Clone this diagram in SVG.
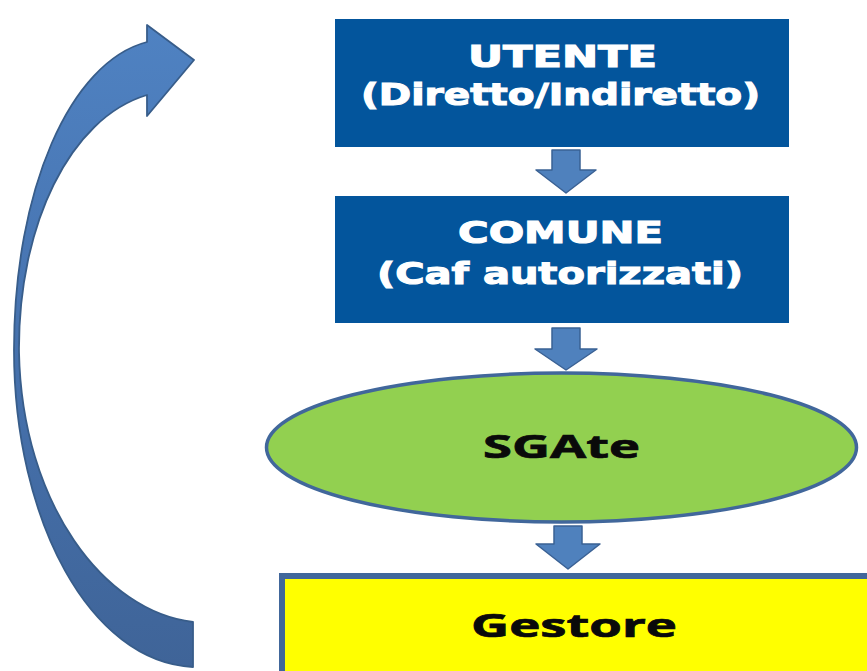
<svg xmlns="http://www.w3.org/2000/svg" width="867" height="671" viewBox="0 0 867 671">
<defs>
<linearGradient id="curveGrad" x1="0" y1="0" x2="0" y2="1">
<stop offset="0" stop-color="#4F82C2"/>
<stop offset="0.5" stop-color="#4672AE"/>
<stop offset="1" stop-color="#3F6498"/>
</linearGradient>
<style>
.box{fill:#03559C;}
.wt{fill:#FFFFFF;stroke:#FFFFFF;stroke-width:1.1;font-family:"DejaVu Sans","Liberation Sans",sans-serif;font-weight:bold;font-size:30px;text-anchor:middle;}
.bt{fill:#0A0A0A;stroke:#0A0A0A;stroke-width:0.7;font-family:"Open Sans","Liberation Sans",sans-serif;font-weight:bold;font-size:32px;text-anchor:middle;}
.blk{fill:#4F81BD;stroke:#3A6194;stroke-width:1.5;stroke-linejoin:round;}
</style>
</defs>
<rect width="867" height="671" fill="#FFFFFF"/>

<g id="loop-arrow">
<path d="M147,42 C70,62 14,190 14,350 C14,520 90,662 193,667 L193,622 C105,612 22,505 19,352 C18,225 70,118 147,95 L147,116 L194,60 L147,25 Z" fill="url(#curveGrad)" stroke="#385D8A" stroke-width="1.8" stroke-linejoin="round"/>
</g>

<g id="utente">
<rect class="box" x="335" y="19" width="454" height="128"/>
<text class="wt" x="562.5" y="67" textLength="189" lengthAdjust="spacingAndGlyphs">UTENTE</text>
<text class="wt" x="560.5" y="105" textLength="399" lengthAdjust="spacingAndGlyphs">(Diretto/Indiretto)</text>
</g>

<g id="comune">
<rect class="box" x="335" y="196" width="454" height="127"/>
<text class="wt" x="560.5" y="243" textLength="205" lengthAdjust="spacingAndGlyphs">COMUNE</text>
<text class="wt" x="560" y="284" textLength="366" lengthAdjust="spacingAndGlyphs">(Caf autorizzati)</text>
</g>

<g id="sgate">
<ellipse cx="561.5" cy="447.5" rx="295" ry="74.5" fill="#92D050" stroke="#41679B" stroke-width="3.5"/>
<text class="bt" x="561.5" y="458" textLength="157" lengthAdjust="spacingAndGlyphs">SGAte</text>
</g>

<g id="gestore">
<rect x="282" y="576" width="600" height="120" fill="#FFFF00" stroke="#41679B" stroke-width="6"/>
<text class="bt" x="574" y="637" textLength="206" lengthAdjust="spacingAndGlyphs">Gestore</text>
</g>

<g id="connectors">
<path class="blk" d="M552,150 L580,150 L580,170 L596,170 L566,193 L536,170 L552,170 Z"/>
<path class="blk" d="M552,328 L580,328 L580,349 L597,349 L566,370 L535,349 L552,349 Z"/>
<path class="blk" d="M554,526 L582,526 L582,544 L600,544 L568,569 L536,544 L554,544 Z"/>
</g>
</svg>
